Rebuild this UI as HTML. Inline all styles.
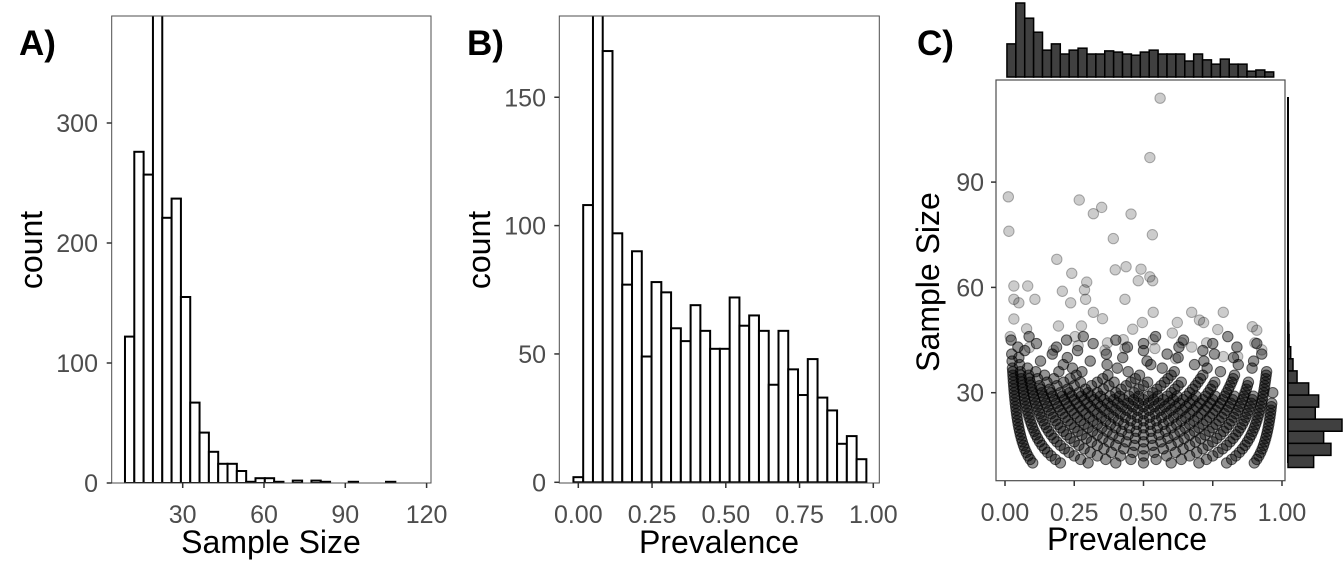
<!DOCTYPE html>
<html><head><meta charset="utf-8">
<style>
html,body{margin:0;padding:0;background:#fff;}
svg{display:block;font-family:"Liberation Sans",sans-serif;}
</style></head>
<body>
<svg id="fig" width="1344" height="576" viewBox="0 0 1344 576">
<defs>
<clipPath id="clipA"><rect x="111.7" y="16" width="319.3" height="467"/></clipPath>
<clipPath id="clipB"><rect x="559.3" y="16" width="320" height="467"/></clipPath>
</defs>
</svg>
<script>
// ---------- Panel A data: Sample Size histogram ----------
const aBinStart = 8.7;
const aBinWidth = 3.44;
const aCounts = [122,276,257,420,221,237,155,67,42,26,16,16,10,1,4,4,1,0,2,0,2,1,0,0,1,0,0,0,1];
const aXTicks = [30,60,90,120];
const aYTicks = [0,100,200,300];
// ---------- Panel B data: Prevalence histogram ----------
const bBinStart = -0.0165;
const bBinWidth = 0.0331;
const bCounts = [2,108,190,168,97,77,90,49,78,74,60,55,69,59,52,52,72,61,65,59,38,59,44,34,48,33,28,15,18,9];
const bXTicks = [0,0.25,0.5,0.75,1.0];
const bXLabels = ["0.00","0.25","0.50","0.75","1.00"];
const bYTicks = [0,50,100,150];
// ---------- Panel C data ----------
const cSampleSizes = [10,11,12,13,14,15,16,17,18,19,20,21,22,23,24,25,26,27,28,29,30,31,32,33,34,35,36,37,38,39,40,41,42,43,44,45,46];
const cPositives = [
 [1,2,3,4,5,6,7,8,9],
 [1,2,3,4,5,6,7,8,9,10],
 [1,2,3,4,5,6,7,8,9,10,11],
 [1,2,3,4,5,6,7,8,9,10,11,12],
 [1,2,3,4,5,6,7,8,9,10,11,12,13],
 [1,2,3,4,5,6,7,8,9,10,11,12,13,14],
 [1,2,3,4,5,6,7,8,9,10,11,12,13,14,15],
 [1,2,3,4,5,6,7,8,9,10,11,12,13,14,15,16],
 [1,2,3,4,5,6,7,8,9,10,11,12,13,14,15,16,17],
 [1,2,3,4,5,6,7,8,9,10,11,12,13,14,15,16,17,18],
 [1,2,3,4,5,6,7,8,9,10,11,12,13,14,15,16,17,18,19],
 [1,2,3,4,5,6,7,8,9,10,11,12,13,14,15,16,17,18,19,20],
 [1,2,3,4,5,6,7,8,9,10,11,12,13,14,15,16,17,18,19,20,21],
 [1,2,3,4,5,6,7,8,9,10,11,12,13,14,15,16,17,18,19,20,21,22],
 [1,2,3,4,5,6,7,8,9,10,11,12,13,14,15,16,17,18,19,20,21,22,23],
 [1,2,3,4,5,6,7,8,9,10,11,12,13,14,15,16,17,18,19,20,21,22,23,24],
 [1,2,3,4,5,6,7,8,9,10,11,12,13,14,15,16,17,18,19,20,21,22,23,24,25],
 [1,2,3,4,5,6,7,8,9,10,11,12,13,14,15,16,17,18,19,20,21,22,23,24,25,26],
 [1,2,3,4,5,6,7,8,9,10,11,12,13,14,15,16,17,18,19,20,21,22,23,24,25,26],
 [1,2,3,4,5,6,7,8,9,10,11,12,13,14,15,16,17,18,19,20,21,22,23,24,25,26,27],
 [1,2,3,4,5,6,7,8,9,10,12,14,16,18,20,22,24,26,28,29],
 [1,2,3,4,5,7,9,11,13,15,17,19,21,23,25,27,29],
 [1,2,3,4,6,8,10,12,14,16,18,20,22,24,26,28,30],
 [1,2,3,5,7,9,11,13,15,17,19,21,23,25,27,29,31],
 [1,2,3,4,6,8,12,16,20,24,28,32],
 [1,2,3,5,9,13,17,21,25,29,33],
 [1,2,4,7,10,16,22,28,34],
 [1,3,9,15,21,27,33],
 [2,8,14,20,26,32],
 [1,5,12,20,28,35],
 [2,9,17,25,33],
 [1,7,15,24,31,38],
 [3,11,21,30],
 [2,8,19,27,36],
 [5,14,22,33,40],
 [1,10,18,29],
 [4,13,25,37]
];
const cOutlierPrev = [0.56,0.523,0.012,0.268,0.349,0.319,0.455,0.014,0.532,0.391,0.187,0.241,0.437,0.398,0.491,0.523,0.533,0.481,0.032,0.082,0.295,0.287,0.207,0.433,0.032,0.05,0.108,0.237,0.291,0.319,0.352,0.032,0.535,0.674,0.788,0.702,0.717,0.496,0.622,0.461,0.604,0.768,0.893,0.909,0.276,0.193,0.078,0.019,0.253,0.427,0.535,0.638,0.728,0.902,0.927,0.37,0.088,0.264,0.788,0.84,0.541,0.674,0.361,0.433,0.175,0.616];
const cOutlierSize = [113.9,97,85.8,84.9,82.8,81,80.9,76,75,73.9,68,64,65.9,65,65.2,63,61.9,61.9,60.4,60.4,61.5,59.3,58.9,56.6,56.6,55.6,56.6,55.6,56.6,52.9,51.1,51,52.9,52.9,52.9,50.7,50,50,50,48.1,47,48,48.8,47.8,49,49,48.2,46,46,45.1,45.1,44.2,44.2,44.2,42.2,44.2,42.9,43.4,40.3,40.3,42.6,43,42.1,42.6,42.1,39.7];
const cXTicks = [0,0.25,0.5,0.75,1.0];
const cXLabels = ["0.00","0.25","0.50","0.75","1.00"];
const cYTicks = [30,60,90];
const cTopBinStart = 0.007;
const cTopBinWidth = 0.0321;
const cTopCounts = [85,190,151,115,69,85,59,69,74,59,59,67,64,59,56,64,69,59,59,59,41,59,44,33,46,33,33,15,18,13];
const cRightBinStart = 8.7;
const cRightBinWidth = 3.44;
const cRightCounts = [190,318,264,400,202,227,153,67,37,20,8,6,4,2,2,1,1,1,1,1,1,1,1,1,1,1,1,1,1,1];

// ---------- helpers ----------
const NS = "http://www.w3.org/2000/svg";
const svg = document.getElementById("fig");
function mk(tag, attrs, parent){
  const e = document.createElementNS(NS, tag);
  for (const k in attrs) e.setAttribute(k, attrs[k]);
  (parent||svg).appendChild(e);
  return e;
}
function txt(s, attrs, parent){ const t = mk("text", attrs, parent); t.textContent = s; return t; }

const TICK_FS = 25, TITLE_FS = 32, TAG_FS = 35;

const axA = v => 101.4 + (v)*2.71;
const ayA = v => 483 - v*1.2;
const axB = v => 578.3 + v*295;
const ayB = v => 482.3 - v*2.567;
const axC = v => 1005 + v*277;
const ayC = v => 498 - v*3.51;

// ---------- Panel A ----------
const gA = mk("g", {});


const barsA = mk("g", {"clip-path":"url(#clipA)"}, gA);
aCounts.forEach((c,i)=>{
  if(c<=0) return;
  const x0 = axA(aBinStart + i*aBinWidth), x1 = axA(aBinStart + (i+1)*aBinWidth);
  const r = mk("rect", {x:x0, y:ayA(c), width:x1-x0, height:ayA(0)-ayA(c), fill:"#fff", stroke:"#000", "stroke-width":2}, barsA);
  
  
});
const frA = mk("rect", {x:111.7,y:16,width:319.3,height:467,fill:"none",stroke:"#4d4d4d","stroke-width":1}, gA);


aXTicks.forEach(v=>{
  mk("line",{x1:axA(v),x2:axA(v),y1:483,y2:488,stroke:"#333","stroke-width":1.5},gA);
  const t = txt(String(v),{x:axA(v),y:523,"text-anchor":"middle","font-size":TICK_FS,fill:"#4d4d4d"},gA);
  
  
});
aYTicks.forEach(v=>{
  mk("line",{x1:106.7,x2:111.7,y1:ayA(v),y2:ayA(v),stroke:"#333","stroke-width":1.5},gA);
  const t = txt(String(v),{x:98,y:ayA(v)+9,"text-anchor":"end","font-size":TICK_FS,fill:"#4d4d4d"},gA);
  
  
});
const tA = txt("Sample Size",{x:271,y:553,"text-anchor":"middle","font-size":TITLE_FS,fill:"#000"},gA);


const yA = txt("count",{x:0,y:0,transform:"translate(42,250) rotate(-90)","text-anchor":"middle","font-size":TITLE_FS,fill:"#000"},gA);


const lA = txt("A)",{x:19,y:55,"font-size":TAG_FS,"font-weight":"bold",fill:"#000"},gA);



// ---------- Panel B ----------
const gB = mk("g", {});


const barsB = mk("g", {"clip-path":"url(#clipB)"}, gB);
bCounts.forEach((c,i)=>{
  if(c<=0) return;
  const x0 = axB(bBinStart + i*bBinWidth), x1 = axB(bBinStart + (i+1)*bBinWidth);
  const r = mk("rect", {x:x0, y:ayB(c), width:x1-x0, height:ayB(0)-ayB(c), fill:"#fff", stroke:"#000", "stroke-width":2}, barsB);
  
  
});
const frB = mk("rect", {x:559.3,y:16,width:320,height:467,fill:"none",stroke:"#4d4d4d","stroke-width":1}, gB);


bXTicks.forEach((v,i)=>{
  mk("line",{x1:axB(v),x2:axB(v),y1:483,y2:488,stroke:"#333","stroke-width":1.5},gB);
  const t = txt(bXLabels[i],{x:axB(v),y:523,"text-anchor":"middle","font-size":TICK_FS,fill:"#4d4d4d"},gB);
  
  
});
bYTicks.forEach(v=>{
  mk("line",{x1:554.3,x2:559.3,y1:ayB(v),y2:ayB(v),stroke:"#333","stroke-width":1.5},gB);
  const t = txt(String(v),{x:546,y:ayB(v)+9,"text-anchor":"end","font-size":TICK_FS,fill:"#4d4d4d"},gB);
  
  
});
const tB = txt("Prevalence",{x:719,y:553,"text-anchor":"middle","font-size":TITLE_FS,fill:"#000"},gB);


const yB = txt("count",{x:0,y:0,transform:"translate(490,250) rotate(-90)","text-anchor":"middle","font-size":TITLE_FS,fill:"#000"},gB);


const lB = txt("B)",{x:467,y:55,"font-size":TAG_FS,"font-weight":"bold",fill:"#000"},gB);



// ---------- Panel C ----------
const gC = mk("g", {});


const topH = 74 / 190;
cTopCounts.forEach((c,i)=>{
  const x0 = axC(cTopBinStart + i*cTopBinWidth), x1 = axC(cTopBinStart + (i+1)*cTopBinWidth);
  const r = mk("rect",{x:x0,y:77-c*topH,width:x1-x0,height:c*topH,fill:"#404040",stroke:"#000","stroke-width":1.5},gC);
  
  
});
const rightW = 54 / 400;
mk("line",{x1:1288,x2:1288,y1:97,y2:463,stroke:"#000","stroke-width":2},gC);
cRightCounts.forEach((c,i)=>{
  const y0 = ayC(cRightBinStart + (i+1)*cRightBinWidth), y1 = ayC(cRightBinStart + i*cRightBinWidth);
  const r = mk("rect",{x:1288,y:y0,width:c*rightW,height:y1-y0,fill:"#404040",stroke:"#000","stroke-width":1.5},gC);
  
  
});
const pts = mk("g",{},gC);


const PFILL = "rgba(0,0,0,0.42)", PSTROKE = "rgba(0,0,0,0.6)";
cSampleSizes.forEach((n,i)=>{
  cPositives[i].forEach(k=>{
    const c = mk("circle",{cx:axC(k/n),cy:ayC(n),r:5.2,fill:PFILL,stroke:PSTROKE,"stroke-width":1},pts);
    
    
  });
});
cOutlierPrev.forEach((p,i)=>{
  const c = mk("circle",{cx:axC(p),cy:ayC(cOutlierSize[i]),r:5.2,fill:"rgba(0,0,0,0.2)",stroke:"rgba(0,0,0,0.3)","stroke-width":1},pts);
  
  
});
const frC = mk("rect",{x:996,y:80,width:289,height:400.7,fill:"none",stroke:"#4d4d4d","stroke-width":1.2},gC);


cXTicks.forEach((v,i)=>{
  mk("line",{x1:axC(v),x2:axC(v),y1:481,y2:486,stroke:"#333","stroke-width":1.5},gC);
  const t = txt(cXLabels[i],{x:axC(v),y:521,"text-anchor":"middle","font-size":TICK_FS,fill:"#4d4d4d"},gC);
  
  
});
cYTicks.forEach(v=>{
  mk("line",{x1:991,x2:996,y1:ayC(v),y2:ayC(v),stroke:"#333","stroke-width":1.5},gC);
  const t = txt(String(v),{x:984,y:ayC(v)+9,"text-anchor":"end","font-size":TICK_FS,fill:"#4d4d4d"},gC);
  
  
});
const tC = txt("Prevalence",{x:1127,y:550,"text-anchor":"middle","font-size":TITLE_FS,fill:"#000"},gC);


const yC = txt("Sample Size",{x:0,y:0,transform:"translate(939,282) rotate(-90)","text-anchor":"middle","font-size":TITLE_FS,fill:"#000"},gC);


const lC = txt("C)",{x:917,y:55,"font-size":TAG_FS,"font-weight":"bold",fill:"#000"},gC);


</script>
</body></html>
